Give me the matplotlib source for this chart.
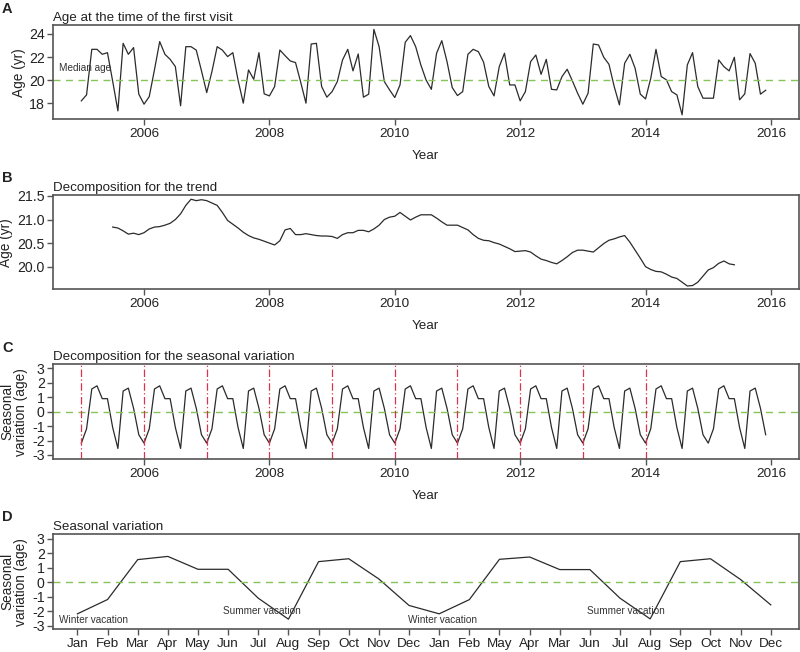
import numpy as np
import matplotlib
matplotlib.use("Agg")
import matplotlib.pyplot as plt

plt.rcParams['font.family'] = ['Liberation Sans', 'DejaVu Sans']
plt.rcParams['axes.unicode_minus'] = False

# ---------------- data ----------------
# Panel A: monthly age at first visit, Jan 2005 .. Dec 2015
age = [18.2, 18.72, 22.67, 22.67, 22.24, 22.38, 19.9, 17.33, 23.19, 22.24, 22.82, 18.78,
       17.91, 18.57, 20.9, 23.34, 22.24, 21.8, 21.17, 17.77, 22.9, 22.9, 22.6, 20.8,
       18.92, 20.74, 22.9, 22.6, 22.04, 22.38, 20.0, 18.0, 20.88, 20.07, 22.38, 18.81,
       18.63, 19.44, 22.61, 22.12, 21.66, 21.52, 19.8, 18.0, 23.13, 23.19, 19.44, 18.52,
       19.0, 19.87, 21.75, 22.67, 20.8, 22.27, 18.52, 18.78, 24.4, 22.9, 19.87, 19.15,
       18.49, 19.58, 23.28, 23.86, 22.9, 21.3, 20.0, 19.2, 22.33, 23.42, 21.6, 19.35,
       18.66, 19.0, 22.24, 22.67, 22.47, 21.55, 19.44, 18.63, 21.17, 22.33, 19.58, 19.58,
       18.2, 19.0, 21.6, 22.18, 20.5, 21.8, 19.2, 19.15, 20.3, 20.94, 19.93, 18.86,
       17.91, 18.86, 23.13, 23.05, 21.98, 21.37, 19.44, 17.85, 21.46, 22.24, 21.03, 18.78,
       18.37, 20.16, 22.67, 20.31, 20.02, 19.0, 18.72, 16.99, 21.32, 22.38, 19.44, 18.43,
       18.43, 18.43, 21.75, 21.17, 20.8, 21.98, 18.29, 18.81, 22.3, 21.46, 18.78, 19.12]
median_age = 20.0

# Panel B: trend, Jul 2005 .. Jun 2015
trend = [20.84, 20.82, 20.76, 20.69, 20.71, 20.68,
         20.72, 20.80, 20.84, 20.85, 20.88, 20.92, 21.00, 21.12, 21.30, 21.43, 21.40, 21.42,
         21.40, 21.35, 21.30, 21.15, 20.98, 20.90, 20.82, 20.73, 20.66, 20.61, 20.58, 20.54,
         20.50, 20.46, 20.55, 20.78, 20.81, 20.68, 20.68, 20.70, 20.68, 20.66, 20.65, 20.65,
         20.64, 20.60, 20.68, 20.72, 20.72, 20.77, 20.77, 20.74, 20.80, 20.88, 21.00, 21.05,
         21.07, 21.15, 21.07, 20.99, 21.05, 21.10, 21.10, 21.10, 21.03, 20.95, 20.88, 20.88,
         20.88, 20.83, 20.78, 20.68, 20.60, 20.56, 20.55, 20.51, 20.48, 20.43, 20.38, 20.32,
         20.33, 20.34, 20.31, 20.23, 20.16, 20.13, 20.09, 20.06, 20.13, 20.21, 20.30, 20.35,
         20.35, 20.33, 20.31, 20.40, 20.49, 20.56, 20.59, 20.63, 20.66, 20.52, 20.35, 20.18,
         20.00, 19.94, 19.90, 19.89, 19.84, 19.78, 19.75, 19.67, 19.59, 19.60, 19.67, 19.80,
         19.93, 19.98, 20.07, 20.12, 20.06, 20.04]

# Panel C/D: seasonal component (Jan..Dec)
seasonal = [-2.18, -1.19, 1.57, 1.79, 0.90, 0.90, -1.10, -2.55, 1.43, 1.63, 0.23, -1.60]
n_years = 11
season_lines = [2005, 2006, 2007, 2008, 2009, 2010, 2011, 2012, 2013, 2014]

# Panel D: two seasonal cycles
seasonal_d = [-2.18, -1.19, 1.57, 1.79, 0.90, 0.90, -1.10, -2.55, 1.43, 1.63, 0.23, -1.60,
              -2.18, -1.20, 1.59, 1.75, 0.88, 0.88, -1.10, -2.53, 1.43, 1.63, 0.19, -1.56]
month_labels = ['Jan', 'Feb', 'Mar', 'Apr', 'May', 'Jun', 'Jul', 'Aug', 'Sep', 'Oct', 'Nov', 'Dec',
                'Jan', 'Feb', 'May', 'Apr', 'Mar', 'Jun', 'Jul', 'Aug', 'Sep', 'Oct', 'Nov', 'Dec']

year_ticks = [2006, 2008, 2010, 2012, 2014, 2016]

# ---------------- styling ----------------
LINE = '#2b2b2b'
SPINE = '#555555'
GREEN = '#86c45a'
RED = '#d9334d'
TXT = '#222222'
W, H = 800, 652

fig = plt.figure(figsize=(8, 6.52), dpi=100)


def make_ax(top, bottom, left=53, right=798.5):
    ax = fig.add_axes([left / W, 1 - bottom / H, (right - left) / W, (bottom - top) / H])
    for s in ax.spines.values():
        s.set_color(SPINE)
        s.set_linewidth(1.2)
    ax.tick_params(axis='both', direction='out', length=4, width=1.0, color=SPINE,
                   labelcolor=TXT, pad=2)
    ax.tick_params(axis='x', labelsize=9.7)
    ax.tick_params(axis='y', labelsize=10.2)
    return ax


def title(ax, s):
    ax.set_title(s, loc='left', fontsize=9.6, color=TXT, pad=3)


def ylab(ax, s, xpix, top, bottom):
    fig.text(xpix / W, 1 - (top + bottom) / 2 / H, s, rotation=90, ha='center', va='center',
             fontsize=9.8, color=TXT, linespacing=1.0)


def letter(s, ypix):
    fig.text(2 / W, 1 - ypix / H, s, ha='left', va='center', fontsize=10.5,
             fontweight='bold', color=TXT)


def xlab(ax, s, ypix_below):
    ax.set_xlabel(s, fontsize=9.6, color=TXT)
    ax.xaxis.set_label_coords(0.5, -ypix_below)
    ax.xaxis.label.set_va('center')


XL = (2004.548, 2016.44)
t_age = 2005 + np.arange(len(age)) / 12.0
t_trend = 2005 + (6 + np.arange(len(trend))) / 12.0
t_seas = 2005 + np.arange(12 * n_years) / 12.0

# ---- A ----
topA, botA = 25, 119.3
axA = make_ax(topA, botA)
axA.plot(t_age, age, color=LINE, lw=0.9)
axA.axhline(median_age, color=GREEN, lw=1.0, ls=(0, (5, 4)))
axA.set_xlim(*XL)
axA.set_ylim(16.6, 24.78)
axA.set_xticks(year_ticks)
axA.set_yticks([18, 20, 22, 24])
axA.text(2004.64, 21.05, 'Median age', fontsize=7.2, color='#333333', ha='left', va='center')
title(axA, 'Age at the time of the first visit')
xlab(axA, 'Year', (156 - botA) / (botA - topA))
ylab(axA, 'Age (yr)', 19, topA, botA)
letter('A', 9)

# ---- B ----
topB, botB = 195, 289.3
axB = make_ax(topB, botB)
axB.plot(t_trend, trend, color=LINE, lw=0.9)
axB.set_xlim(*XL)
axB.set_ylim(19.52, 21.52)
axB.set_xticks(year_ticks)
axB.set_yticks([20.0, 20.5, 21.0, 21.5])
axB.set_yticklabels(['20.0', '20.5', '21.0', '21.5'])
title(axB, 'Decomposition for the trend')
xlab(axB, 'Year', (326 - botB) / (botB - topB))
ylab(axB, 'Age (yr)', 6, topB, botB)
letter('B', 178)

# ---- C ----
topC, botC = 364.3, 459.3
axC = make_ax(topC, botC)
axC.plot(t_seas, np.tile(seasonal, n_years), color=LINE, lw=0.9)
axC.axhline(0, color=GREEN, lw=1.0, ls=(0, (5, 4)))
for yv in season_lines:
    axC.axvline(yv, color=RED, lw=0.9, ls=(0, (6, 2, 1, 2)))
axC.set_xlim(*XL)
axC.set_ylim(-3.3, 3.28)
axC.set_xticks(year_ticks)
axC.set_yticks([-3, -2, -1, 0, 1, 2, 3])
title(axC, 'Decomposition for the seasonal variation')
xlab(axC, 'Year', (496 - botC) / (botC - topC))
ylab(axC, 'Seasonal\nvariation (age)', 14, topC, botC)
letter('C', 348)

# ---- D ----
topD, botD = 534.3, 629.3
axD = make_ax(topD, botD)
xd = np.arange(1, len(seasonal_d) + 1)
axD.plot(xd, seasonal_d, color=LINE, lw=0.9)
axD.axhline(0, color=GREEN, lw=1.0, ls=(0, (5, 4)))
axD.set_xlim(0.19, 24.92)
axD.set_ylim(-3.25, 3.32)
axD.set_xticks(xd)
axD.set_xticklabels(month_labels)
axD.set_yticks([-3, -2, -1, 0, 1, 2, 3])
for xt, yt, s in [(0.39, -2.64, 'Winter vacation'), (11.95, -2.64, 'Winter vacation'),
                  (5.82, -1.95, 'Summer vacation'), (17.9, -1.95, 'Summer vacation')]:
    axD.text(xt, yt, s, fontsize=7.2, color='#333333', ha='left', va='center')
title(axD, 'Seasonal variation')
ylab(axD, 'Seasonal\nvariation (age)', 14, topD, botD)
letter('D', 517)

fig.savefig('out.png', dpi=100)
